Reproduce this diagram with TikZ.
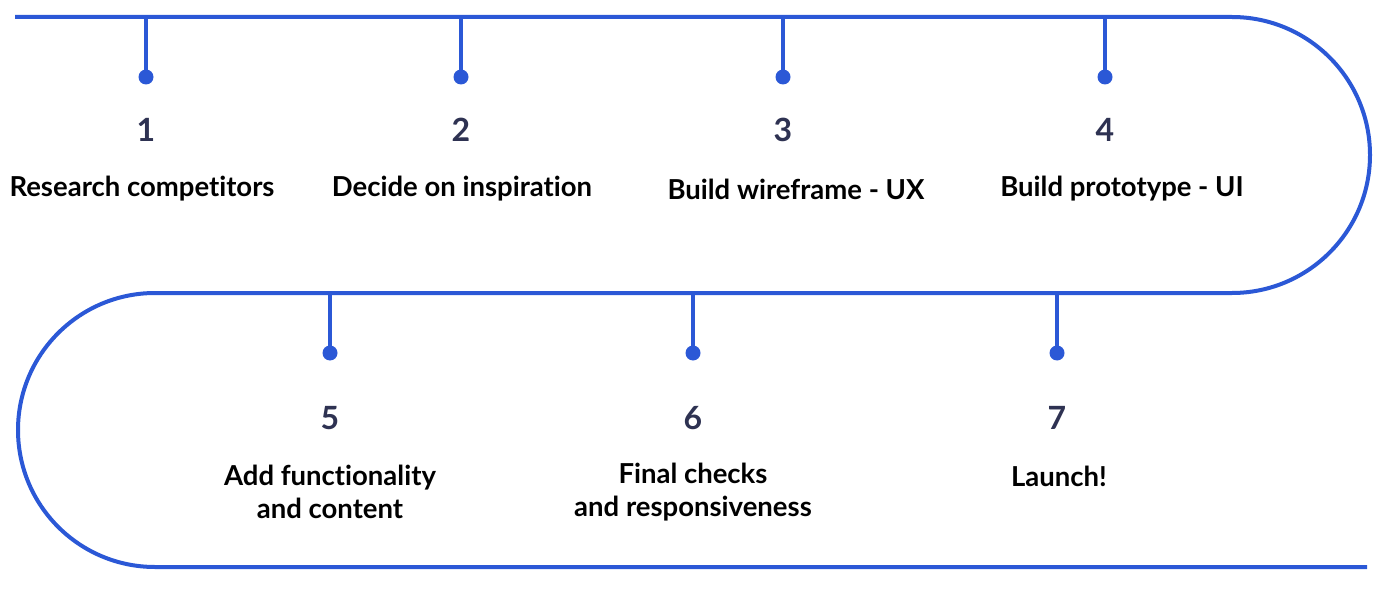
\documentclass[tikz,border=0pt]{standalone}
\usepackage{fontspec}
\setmainfont{Lato}[Ligatures=NoCommon]
\definecolor{lineblue}{RGB}{43,88,214}
\definecolor{numnavy}{RGB}{46,50,82}
\tikzset{
  path line/.style={draw=lineblue, line width=4pt},
  dotnode/.style={circle, fill=lineblue, inner sep=0pt, minimum size=15pt},
  numnode/.style={font=\fontsize{32}{32}\selectfont\bfseries, text=numnavy, inner sep=0pt},
  labnode/.style={font=\fontsize{27.5}{32.5}\selectfont\bfseries, text=black, inner sep=0pt, align=center},
}
\begin{document}
\begin{tikzpicture}[x=1pt,y=-1pt]
\useasboundingbox (0,0) rectangle (1377,591);
% main serpentine path
\coordinate (start) at (15,17);
\coordinate (rtop) at (1232,17);
\coordinate (lmid) at (155,293);
\coordinate (lbot) at (155,567);
\coordinate (finish) at (1367,567);
\draw[path line] (start) -- (rtop) arc[start angle=-90, end angle=90, radius=138] -- (lmid)
  arc[start angle=-90, end angle=-270, radius=137] -- (finish);
% top steps
\foreach \i/\x in {1/146, 2/461, 3/783, 4/1105}{
  \coordinate (t\i) at (\x,17);
  \node[dotnode] (d\i) at (\x,77) {};
  \draw[path line] (t\i) -- (d\i.center);
  \node[numnode] (n\i) at (\x,130) {\i};
}
\node[labnode] (l1) at (142,189) {Research competitors};
\node[labnode] (l2) at (462,189) {Decide on inspiration};
\node[labnode] (l3) at (796,189) {Build wireframe - UX};
\node[labnode] (l4) at (1122,189) {Build prototype - UI};
% bottom steps
\foreach \i/\x in {5/330, 6/693, 7/1057}{
  \coordinate (t\i) at (\x,293);
  \node[dotnode] (d\i) at (\x,353) {};
  \draw[path line] (t\i) -- (d\i.center);
  \node[numnode] (n\i) at (\x,418) {\i};
}
\node[labnode] (l5) at (330,492) {Add functionality\\and content};
\node[labnode] (l6) at (693,492) {Final checks\\and responsiveness};
\node[labnode] (l7) at (1059,476) {Launch!};
\end{tikzpicture}
\end{document}
